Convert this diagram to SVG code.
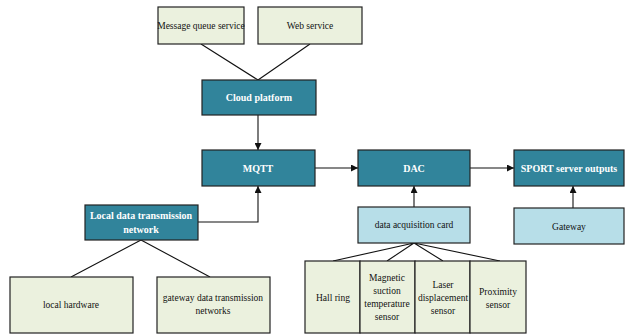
<svg xmlns="http://www.w3.org/2000/svg" width="625" height="335" viewBox="0 0 625 335">
<style>
.g{fill:#ebf1de;stroke:#222;stroke-width:1.2}
.t{fill:#31849b;stroke:#222;stroke-width:1.2}
.b{fill:#b7dee8;stroke:#222;stroke-width:1.2}
text{font-family:"Liberation Serif","Times New Roman",serif;text-anchor:middle}
.lt{font-size:9.5px;fill:#111}
.wt{font-size:10px;fill:#fff;font-weight:bold}
.c{fill:none;stroke:#111;stroke-width:1.1}
</style>
<defs>
<marker id="a" viewBox="0 0 10 10" refX="10" refY="5" markerWidth="7" markerHeight="7" orient="auto" markerUnits="userSpaceOnUse"><path d="M0,0 L10,5 L0,10 z" fill="#111"/></marker>
</defs>
<rect width="625" height="335" fill="#fff"/>
<g id="connectors">
<path class="c" d="M201,44 L258,80 M310,44 L258,80"/>
<path class="c" d="M258,115 L258,150" marker-end="url(#a)"/>
<path class="c" d="M315,168 L358,168" marker-end="url(#a)"/>
<path class="c" d="M470,168 L514,168" marker-end="url(#a)"/>
<path class="c" d="M573,208 L573,186" marker-end="url(#a)"/>
<path class="c" d="M414,207 L414,186" marker-end="url(#a)"/>
<path class="c" d="M198,222 L258,222 L258,186" marker-end="url(#a)"/>
<path class="c" d="M141,240 L71,277 M141,240 L210,277"/>
<path class="c" d="M414,243 L333,261 M414,243 L387,261 M414,243 L443,261 M414,243 L500,261"/>
</g>
<g id="msg"><rect class="g" x="158" y="7" width="86" height="37"/><text class="lt" x="201" y="29">Message queue service</text></g>
<g id="web"><rect class="g" x="258" y="7" width="104" height="37"/><text class="lt" x="310" y="29">Web service</text></g>
<g id="cloud"><rect class="t" x="202" y="80" width="114" height="35"/><text class="wt" x="259" y="101">Cloud platform</text></g>
<g id="mqtt"><rect class="t" x="202" y="150" width="113" height="36"/><text class="wt" x="258" y="172">MQTT</text></g>
<g id="dac"><rect class="t" x="358" y="150" width="112" height="36"/><text class="wt" x="414" y="172">DAC</text></g>
<g id="sport"><rect class="t" x="514" y="150" width="110" height="36"/><text class="wt" x="569" y="172">SPORT server outputs</text></g>
<g id="gateway"><rect class="b" x="514" y="208" width="110" height="36"/><text class="lt" x="569" y="230">Gateway</text></g>
<g id="card"><rect class="b" x="358" y="207" width="112" height="36"/><text class="lt" x="414" y="228">data acquisition card</text></g>
<g id="local"><rect class="t" x="85" y="205" width="113" height="35"/><text class="wt" x="141" y="219">Local data transmission</text><text class="wt" x="141" y="233">network</text></g>
<g id="hw"><rect class="g" x="10" y="277" width="123" height="56"/><text class="lt" x="71" y="308">local hardware</text></g>
<g id="gwnet"><rect class="g" x="157" y="277" width="113" height="56"/><text class="lt" x="213" y="301">gateway data transmission</text><text class="lt" x="213" y="314">networks</text></g>
<g id="hall"><rect class="g" x="305" y="261" width="55" height="72"/><text class="lt" x="333" y="301">Hall ring</text></g>
<g id="mag"><rect class="g" x="360" y="261" width="55" height="72"/><text class="lt" x="387" y="281">Magnetic</text><text class="lt" x="387" y="294">suction</text><text class="lt" x="387" y="307">temperature</text><text class="lt" x="387" y="320">sensor</text></g>
<g id="laser"><rect class="g" x="415" y="261" width="55" height="72"/><text class="lt" x="443" y="288">Laser</text><text class="lt" x="443" y="301">displacement</text><text class="lt" x="443" y="314">sensor</text></g>
<g id="prox"><rect class="g" x="470" y="261" width="56" height="72"/><text class="lt" x="498" y="295">Proximity</text><text class="lt" x="498" y="308">sensor</text></g>
</svg>
